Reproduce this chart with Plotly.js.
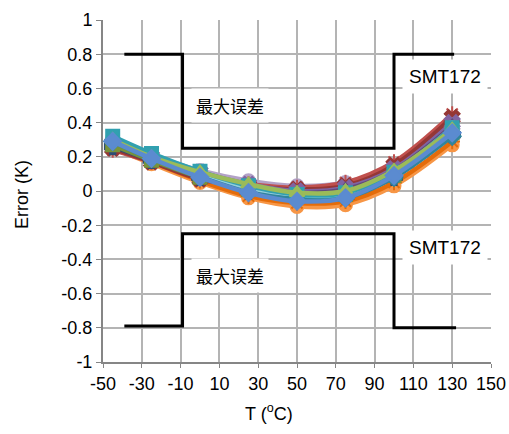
<!DOCTYPE html>
<html>
<head>
<meta charset="utf-8">
<script src="https://cdn.plot.ly/plotly-3.0.1.min.js"></script>
<style>html,body{margin:0;padding:0;background:#fff;}#chart{width:509px;height:434px;}</style>
</head>
<body>
<div id="chart"></div>
<script>
// Temperatures (°C) at which the sensors were measured
const temps = [-45, -25, 0, 25, 50, 75, 100, 130];

// Error (K) of each sensor
const sOrange     = [0.25, 0.16, 0.05, -0.04, -0.09, -0.08, 0.03, 0.27];
const sDarkOrange = [0.26, 0.17, 0.06, -0.03, -0.07, -0.06, 0.05, 0.29];
const sLightPurp  = [0.29, 0.21, 0.12, 0.06, 0.03, 0.05, 0.15, 0.40];
const sRed        = [0.24, 0.17, 0.08, 0.04, 0.02, 0.05, 0.17, 0.45];
const sDarkRed    = [0.25, 0.17, 0.07, 0.03, 0.01, 0.03, 0.15, 0.43];
const sPurple     = [0.28, 0.20, 0.11, 0.04, 0.00, 0.02, 0.13, 0.40];
const sDarkPurple = [0.28, 0.20, 0.11, 0.03, -0.01, 0.01, 0.12, 0.38];
const sDarkBlue   = [0.26, 0.18, 0.08, 0.00, -0.04, -0.03, 0.08, 0.33];
const sDarkGreen  = [0.27, 0.18, 0.08, 0.01, -0.03, -0.02, 0.09, 0.34];
const sAqua       = [0.30, 0.20, 0.10, 0.02, -0.03, -0.02, 0.10, 0.36];
const sDarkTeal   = [0.29, 0.19, 0.09, 0.01, -0.05, -0.04, 0.08, 0.32];
const sLightBlue  = [0.31, 0.21, 0.11, 0.02, -0.02, -0.01, 0.11, 0.37];
const sTeal       = [0.32, 0.22, 0.115, 0.03, -0.02, -0.01, 0.11, 0.37];
const sGreen      = [0.30, 0.20, 0.11, 0.04, -0.01, 0.00, 0.12, 0.36];
const sBlue       = [0.29, 0.19, 0.08, -0.01, -0.06, -0.04, 0.09, 0.34];

// Specification limit outlines (SMT172 max error)
const upperLimitX = [-39, -9, -9, 100, 100, 131];
const upperLimitY = [0.8, 0.8, 0.25, 0.25, 0.8, 0.8];
const lowerLimitX = [-39, -9, -9, 100, 100, 132];
const lowerLimitY = [-0.79, -0.79, -0.25, -0.25, -0.8, -0.8];

// Axis ticks
const xTickVals = [-50, -30, -10, 10, 30, 50, 70, 90, 110, 130, 150];
const xTickText = ['-50', '-30', '-10', '10', '30', '50', '70', '90', '110', '130', '150'];
const yTickVals = [-1, -0.8, -0.6, -0.4, -0.2, 0, 0.2, 0.4, 0.6, 0.8, 1];
const yTickText = ['-1', '-0.8', '-0.6', '-0.4', '-0.2', '0', '0.2', '0.4', '0.6', '0.8', '1'];

const seriesDefs = [
  [sOrange, '#F79646', 'circle'],
  [sDarkOrange, '#E46C0A', 'asterisk-open'],
  [sLightPurp, '#B3A2C7', 'circle'],
  [sRed, '#C0504D', 'asterisk-open'],
  [sDarkRed, '#953735', 'x'],
  [sPurple, '#8064A2', 'x'],
  [sDarkPurple, '#604A7B', 'triangle-up'],
  [sDarkBlue, '#2C4D75', 'cross'],
  [sDarkGreen, '#77933C', 'square'],
  [sAqua, '#4BACC6', 'asterisk-open'],
  [sDarkTeal, '#31859C', 'diamond'],
  [sLightBlue, '#93CDDD', 'circle'],
  [sTeal, '#31A0B0', 'square'],
  [sGreen, '#9BBB59', 'triangle-up'],
  [sBlue, '#5B8BD0', 'diamond']
];

const traces = seriesDefs.map(function (d) {
  return {
    x: temps, y: d[0], type: 'scatter', mode: 'lines+markers',
    line: {color: d[1], width: 4.5, shape: 'spline', smoothing: 1},
    marker: {color: d[1], symbol: d[2], size: 13, line: {color: d[1], width: 2}},
    showlegend: false, hoverinfo: 'skip'
  };
});

traces.push({x: upperLimitX, y: upperLimitY, type: 'scatter', mode: 'lines',
  line: {color: '#000', width: 3}, showlegend: false, hoverinfo: 'skip'});
traces.push({x: lowerLimitX, y: lowerLimitY, type: 'scatter', mode: 'lines',
  line: {color: '#000', width: 3}, showlegend: false, hoverinfo: 'skip'});

const fontFam = 'Liberation Sans, Arial, sans-serif';
const cjkFam = 'Noto Sans CJK SC, sans-serif';

const layout = {
  width: 509, height: 434,
  margin: {l: 103, r: 18, t: 20, b: 72},
  paper_bgcolor: '#fff', plot_bgcolor: '#fff',
  font: {family: fontFam, size: 18, color: '#000'},
  showlegend: false,
  xaxis: {
    range: [-50, 150], tickmode: 'array', tickvals: xTickVals, ticktext: xTickText,
    showgrid: true, gridcolor: '#b4b4b4', gridwidth: 2,
    zeroline: false, showline: true, linecolor: '#868686', linewidth: 2,
    ticks: 'outside', ticklen: 4, tickcolor: '#868686',
    tickfont: {family: fontFam, size: 18, color: '#000'}
  },
  yaxis: {
    range: [-1, 1], tickmode: 'array', tickvals: yTickVals, ticktext: yTickText,
    showgrid: true, gridcolor: '#b4b4b4', gridwidth: 2,
    zeroline: false, showline: true, linecolor: '#868686', linewidth: 2,
    ticks: 'outside', ticklen: 5, tickcolor: '#868686',
    tickfont: {family: fontFam, size: 18, color: '#000'}
  },
  annotations: [
    {x: 0, y: 0.488, xref: 'paper', yref: 'paper', xshift: -81, xanchor: 'center', yanchor: 'middle',
     textangle: -90, text: 'Error (K)', showarrow: false, font: {family: fontFam, size: 18, color: '#000'}},
    {x: 0.428, y: 0, xref: 'paper', yref: 'paper', yshift: -50, xanchor: 'center', yanchor: 'middle',
     text: 'T (<sup>o</sup>C)', showarrow: false, font: {family: fontFam, size: 18, color: '#000'}},
    {x: 126.3, y: 0.669, xref: 'x', yref: 'y', text: 'SMT172', showarrow: false,
     bgcolor: '#fff', borderpad: 6, font: {family: fontFam, size: 19, color: '#000'}},
    {x: 126.3, y: -0.33, xref: 'x', yref: 'y', text: 'SMT172', showarrow: false,
     bgcolor: '#fff', borderpad: 6, font: {family: fontFam, size: 19, color: '#000'}},
    {x: 15.5, y: 0.5, xref: 'x', yref: 'y', text: '最大误差', showarrow: false,
     bgcolor: '#fff', borderpad: 4, font: {family: cjkFam, size: 17, color: '#000'}},
    {x: 15.5, y: -0.497, xref: 'x', yref: 'y', text: '最大误差', showarrow: false,
     bgcolor: '#fff', borderpad: 4, font: {family: cjkFam, size: 17, color: '#000'}}
  ]
};

Plotly.newPlot('chart', traces, layout, {displayModeBar: false});
</script>
</body>
</html>
